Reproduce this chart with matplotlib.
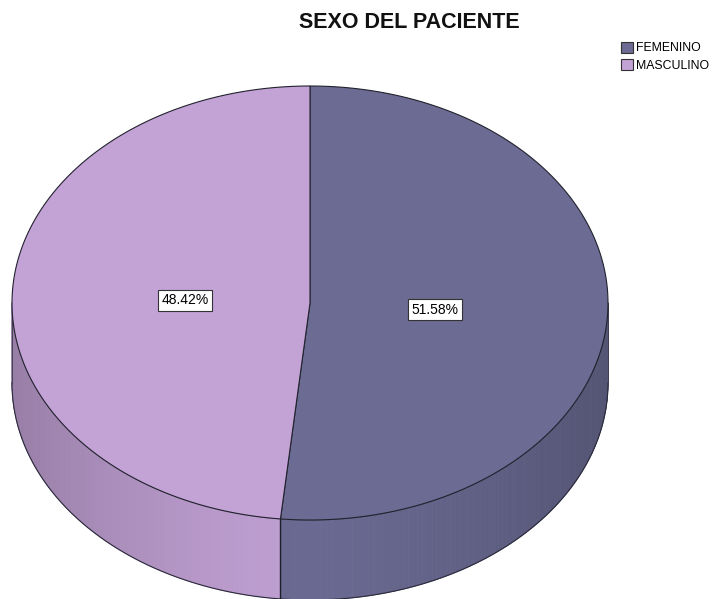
import numpy as np
import matplotlib.pyplot as plt
from matplotlib.patches import Polygon, Patch
from matplotlib.colors import to_rgb

plt.rcParams['font.family'] = ['Liberation Sans', 'DejaVu Sans']

labels = ['FEMENINO', 'MASCULINO']
percent = [51.58, 48.42]
top_colors = ['#6b6b94', '#c3a2d6']

# pie geometry in pixel units (y grows downward)
cx, cy = 310, 303
rx, ry = 298, 217
depth = 80


def rim(a0, a1, n=200):
    t = np.radians(np.linspace(a0, a1, n))
    return cx + rx * np.sin(t), cy - ry * np.cos(t)


fig = plt.figure(figsize=(7.17, 5.99), dpi=100)
ax = fig.add_axes([0, 0, 1, 1])
ax.set_xlim(0, 717)
ax.set_ylim(599, 0)
ax.axis('off')

start = 0.0
bounds = []
for lab, pct, col in zip(labels, percent, top_colors):
    end = start + pct * 3.6
    base = np.array(to_rgb(col))

    # side wall, drawn as thin strips with shading
    lo, hi = max(start, 90), min(end, 270)
    if lo < hi:
        edges = np.linspace(lo, hi, int(hi - lo) + 2)
        for a0, a1 in zip(edges[:-1], edges[1:]):
            am = np.radians((a0 + a1) / 2)
            f = 0.98 - 0.2 * abs(np.sin(am)) ** 1.5
            c = np.clip(base * f, 0, 1)
            xs, ys = rim(a0, a1, 4)
            poly = np.r_[np.c_[xs, ys], np.c_[xs[::-1], ys[::-1] + depth]]
            ax.add_patch(Polygon(poly, closed=True, fc=c, ec=c, lw=0.6, zorder=1))
        xs, ys = rim(lo, hi)
        ax.plot(xs, ys, color=base * 0.75, lw=0.8, zorder=2)
        ax.plot(xs, ys + depth, color='#2a2a3a', lw=0.8, zorder=2)

    # top face
    xs, ys = rim(start, end)
    poly = np.r_[[[cx, cy]], np.c_[xs, ys]]
    ax.add_patch(Polygon(poly, closed=True, fc=col, ec='#22222e', lw=0.8, zorder=3))

    # percentage label
    am = np.radians((start + end) / 2)
    r = 0.42
    ax.text(cx + r * rx * np.sin(am), cy - r * ry * np.cos(am) + 2, f'{pct:.2f}%',
            ha='center', va='center', fontsize=10, zorder=5,
            bbox=dict(boxstyle='square,pad=0.25', fc='white', ec='#333333', lw=0.8))
    bounds.append(end)
    start = end

# vertical seam where the slices meet on the front wall
a = bounds[0]
if 90 < a < 270:
    xs, ys = rim(a, a, 2)
    ax.plot([xs[0], xs[0]], [ys[0], ys[0] + depth], color='#1e1e2a', lw=1.0, zorder=2)
# outer silhouette edges of the wall
for a in (90, 270):
    xs, ys = rim(a, a, 2)
    ax.plot([xs[0], xs[0]], [ys[0], ys[0] + depth], color='#3a3a4a', lw=0.6, zorder=2)

ax.text(409, 22, 'SEXO DEL PACIENTE', ha='center', va='center',
        fontsize=15.5, fontweight='bold', color='#111111')

handles = [Patch(fc=c, ec='#333333', lw=0.8) for c in top_colors]
fig.legend(handles, labels, loc='upper left', bbox_to_anchor=(621 / 717, 1 - 42 / 599),
           frameon=False, fontsize=8.8, handlelength=0.95, handleheight=0.95,
           handletextpad=0.3, labelspacing=0.4, borderpad=0, borderaxespad=0)

fig.savefig('out.png', dpi=100)
